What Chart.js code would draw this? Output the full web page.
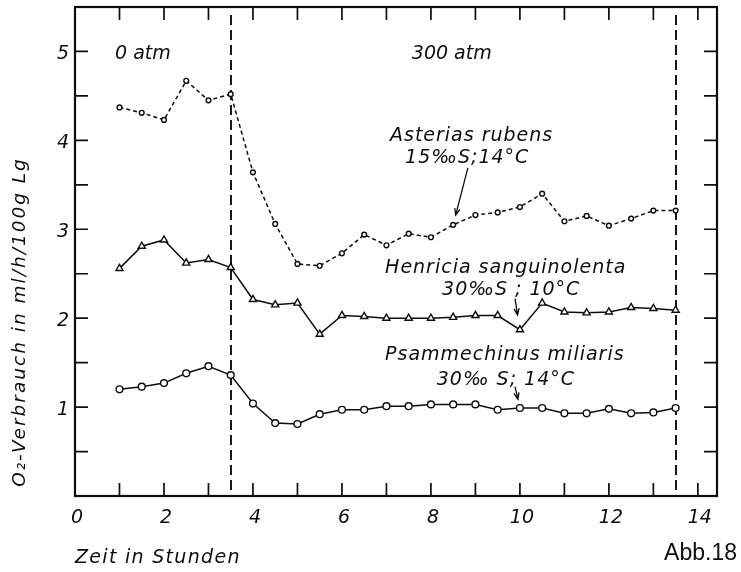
<!DOCTYPE html>
<html>
<head>
<meta charset="utf-8">
<title>O2-Verbrauch unter Druck</title>
<script src="https://cdn.jsdelivr.net/npm/chart.js@4.4.1/dist/chart.umd.min.js"></script>
<style>
  html, body { margin: 0; padding: 0; background: #fff; }
  canvas { display: block; }
</style>
</head>
<body>
<canvas id="abb18" width="741" height="572" style="width:741px;height:572px"></canvas>
<script>
// Messzeitpunkte (Stunden)
const hours = [1, 1.5, 2, 2.5, 3, 3.5, 4, 4.5, 5, 5.5, 6, 6.5, 7, 7.5, 8, 8.5, 9, 9.5, 10, 10.5, 11, 11.5, 12, 12.5, 13, 13.5];

// O2-Verbrauch in ml/h/100g Lg
const asterias = [4.37, 4.31, 4.23, 4.67, 4.45, 4.52, 3.64, 3.06, 2.61, 2.59, 2.73, 2.94, 2.82, 2.95, 2.91, 3.05, 3.16, 3.19, 3.25, 3.40, 3.09, 3.15, 3.04, 3.12, 3.21, 3.21];
const henricia = [2.56, 2.81, 2.88, 2.62, 2.66, 2.57, 2.21, 2.15, 2.17, 1.82, 2.03, 2.02, 2.00, 2.00, 2.00, 2.01, 2.03, 2.03, 1.87, 2.17, 2.07, 2.06, 2.07, 2.12, 2.11, 2.09];
const psammechinus = [1.20, 1.23, 1.27, 1.38, 1.46, 1.36, 1.04, 0.82, 0.81, 0.92, 0.97, 0.97, 1.01, 1.01, 1.03, 1.03, 1.03, 0.97, 0.99, 0.99, 0.93, 0.93, 0.98, 0.93, 0.94, 0.99];

// Achsenbeschriftung
const xTickLabels = ['0', '2', '4', '6', '8', '10', '12', '14'];
const yTickLabels = ['1', '2', '3', '4', '5'];
const xTitle = 'Zeit in Stunden';
const yTitle = 'O\u2082-Verbrauch in ml/h/100g Lg';
const figureLabel = 'Abb.18';

// Druckwechsel (Stunden) und Druckstufen
const pressureChanges = [3.5, 13.5];
const pressureLabels = ['0 atm', '300 atm'];
const pressureLabelHours = [0.9, 7.57];

// Artbezeichnungen mit Pfeil auf einen Messpunkt
const speciesNames = ['Asterias rubens', 'Henricia sanguinolenta', 'Psammechinus miliaris'];
const speciesConditions = ['15\u2030S;14\u00B0C', '30\u2030S ; 10\u00B0C', '30\u2030 S; 14\u00B0C'];

const ink = '#0d0d0d';
const italic = size => `italic ${size}px "DejaVu Sans", sans-serif`;

const series = [
  { values: asterias, dash: [4, 3], style: 'circle', radius: 2.4,
    name: { x: 7.08, y: 3.99 }, cond: { x: 7.42, y: 3.75 }, arrowFrom: { x: 8.83, y: 3.69 }, arrowAt: 15, gap: 10 },
  { values: henricia, dash: [], style: 'triangle', radius: 4.1,
    name: { x: 6.97, y: 2.51 }, cond: { x: 8.25, y: 2.26 }, arrowFrom: { x: 9.89, y: 2.22 }, arrowAt: 18, gap: 15 },
  { values: psammechinus, dash: [], style: 'circle', radius: 3.4,
    name: { x: 6.97, y: 1.53 }, cond: { x: 8.13, y: 1.25 }, arrowFrom: { x: 9.89, y: 1.23 }, arrowAt: 18, gap: 9 }
];

function drawText(ctx, str, px, py, font, align, spacing) {
  ctx.font = font;
  ctx.letterSpacing = (spacing || 0) + 'px';
  ctx.textAlign = align;
  ctx.textBaseline = 'alphabetic';
  ctx.fillText(str, px, py);
  ctx.letterSpacing = '0px';
}

function drawArrow(ctx, x1, y1, x2, y2) {
  const ang = Math.atan2(y2 - y1, x2 - x1);
  const head = 7, spread = 0.38;
  ctx.beginPath();
  ctx.moveTo(x1, y1);
  ctx.lineTo(x2, y2);
  ctx.moveTo(x2 - head * Math.cos(ang - spread), y2 - head * Math.sin(ang - spread));
  ctx.lineTo(x2, y2);
  ctx.lineTo(x2 - head * Math.cos(ang + spread), y2 - head * Math.sin(ang + spread));
  ctx.stroke();
}

const paper = {
  id: 'paper',
  beforeDatasetsDraw(chart) {
    const { ctx, chartArea: a, scales: { x } } = chart;
    ctx.save();
    ctx.strokeStyle = ink;
    ctx.lineWidth = 1.9;
    ctx.setLineDash([10, 5]);
    pressureChanges.forEach(h => {
      const px = Math.round(x.getPixelForValue(h));
      ctx.beginPath();
      ctx.moveTo(px, a.top + 8);
      ctx.lineTo(px, a.bottom - 3);
      ctx.stroke();
    });
    ctx.restore();
  },
  afterDatasetsDraw(chart) {
    const { ctx, chartArea: a, scales: { x, y } } = chart;
    ctx.save();
    ctx.strokeStyle = ink;
    ctx.fillStyle = ink;

    // Rahmen
    ctx.lineWidth = 2.2;
    ctx.strokeRect(a.left, a.top, a.right - a.left, a.bottom - a.top);

    // nach innen weisende Teilstriche
    const tl = 13;
    ctx.lineWidth = 1.7;
    ctx.beginPath();
    for (let h = 1; h <= 14; h += 1) {
      const px = x.getPixelForValue(h);
      ctx.moveTo(px, a.bottom); ctx.lineTo(px, a.bottom - tl);
      ctx.moveTo(px, a.top); ctx.lineTo(px, a.top + tl);
    }
    for (let v = 0.5; v <= 5; v += 0.5) {
      const py = y.getPixelForValue(v);
      ctx.moveTo(a.left, py); ctx.lineTo(a.left + tl, py);
      ctx.moveTo(a.right, py); ctx.lineTo(a.right - tl, py);
    }
    ctx.stroke();

    // Zahlen an den Achsen
    xTickLabels.forEach(t => {
      drawText(ctx, t, x.getPixelForValue(Number(t)) + 2, a.bottom + 27, italic(19), 'center');
    });
    yTickLabels.forEach(t => {
      drawText(ctx, t, a.left - 6, y.getPixelForValue(Number(t)) + 8, italic(19), 'right');
    });

    // Achsentitel
    drawText(ctx, xTitle, a.left, 563, italic(19), 'left', 1.3);
    drawText(ctx, figureLabel, 737, 560, '23px "Liberation Sans", Arial, sans-serif', 'right');
    ctx.save();
    ctx.translate(25, 322);
    ctx.rotate(-Math.PI / 2);
    drawText(ctx, yTitle, 0, 0, italic(18.5), 'center', 2);
    ctx.restore();

    // Druckstufen
    pressureLabels.forEach((t, i) => {
      drawText(ctx, t, x.getPixelForValue(pressureLabelHours[i]), y.getPixelForValue(5) + 8, italic(19), 'left');
    });

    // Arten und Versuchsbedingungen
    ctx.lineWidth = 1.3;
    series.forEach((s, i) => {
      drawText(ctx, speciesNames[i], x.getPixelForValue(s.name.x), y.getPixelForValue(s.name.y), italic(19), 'left', 1);
      drawText(ctx, speciesConditions[i], x.getPixelForValue(s.cond.x), y.getPixelForValue(s.cond.y), italic(19), 'left', 1);
      const x1 = x.getPixelForValue(s.arrowFrom.x), y1 = y.getPixelForValue(s.arrowFrom.y);
      const tx = x.getPixelForValue(hours[s.arrowAt]), ty = y.getPixelForValue(s.values[s.arrowAt]);
      const d = Math.hypot(tx - x1, ty - y1);
      drawArrow(ctx, x1, y1, tx - (tx - x1) / d * s.gap, ty - (ty - y1) / d * s.gap);
    });
    ctx.restore();
  }
};

new Chart(document.getElementById('abb18'), {
  type: 'line',
  data: {
    datasets: series.map((s, i) => ({
      label: speciesNames[i],
      data: hours.map((h, k) => ({ x: h, y: s.values[k] })),
      borderColor: ink,
      borderWidth: 1.5,
      borderDash: s.dash,
      tension: 0,
      fill: false,
      pointStyle: s.style,
      pointRadius: s.radius,
      pointHoverRadius: s.radius,
      pointBorderWidth: 1.4,
      pointBorderColor: ink,
      pointBackgroundColor: '#fff'
    }))
  },
  options: {
    responsive: false,
    animation: false,
    devicePixelRatio: 1,
    events: [],
    layout: { padding: { left: 75, right: 24, top: 7, bottom: 76 } },
    plugins: { legend: { display: false }, tooltip: { enabled: false } },
    scales: {
      x: { type: 'linear', min: 0, max: 14.43, display: false },
      y: { type: 'linear', min: 0, max: 5.5, display: false }
    }
  },
  plugins: [paper]
});
</script>
</body>
</html>
